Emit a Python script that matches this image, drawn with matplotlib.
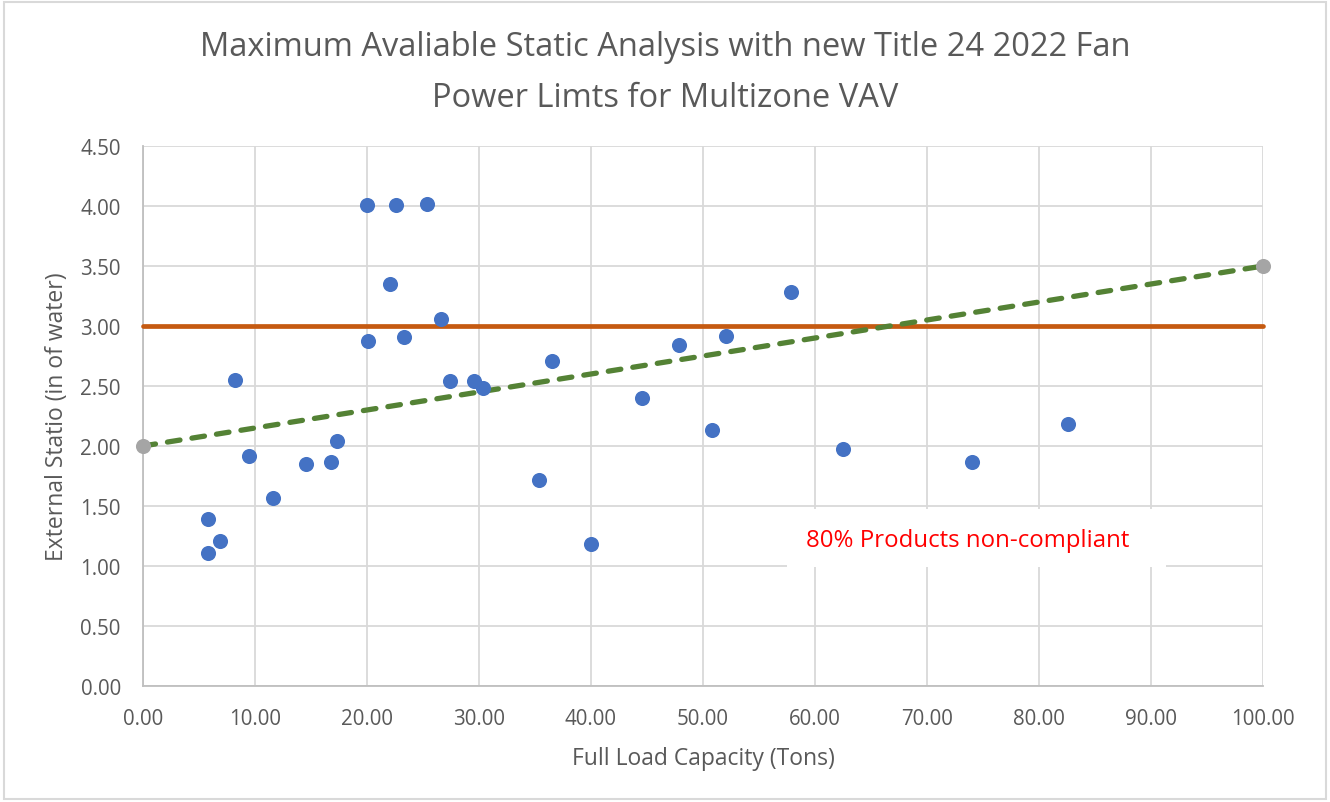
import matplotlib
matplotlib.use("Agg")
import matplotlib.pyplot as plt
from matplotlib.patches import Rectangle

plt.rcParams['font.family'] = ['Open Sans', 'DejaVu Sans']

# Data
capacity_tons = [5.8, 5.8, 6.9, 8.2, 9.5, 11.6, 14.55, 16.8, 17.3, 20.0, 20.1, 22.05,
                 22.6, 23.3, 25.4, 26.6, 27.4, 29.55, 30.4, 35.4, 36.5, 40.0, 44.55,
                 47.9, 50.8, 52.05, 57.9, 62.5, 74.0, 82.6]
static_in_wc = [1.39, 1.11, 1.21, 2.55, 1.92, 1.57, 1.85, 1.87, 2.04, 4.01, 2.875, 3.35,
                4.01, 2.91, 4.02, 3.06, 2.54, 2.54, 2.48, 1.72, 2.71, 1.18, 2.40,
                2.84, 2.13, 2.92, 3.28, 1.975, 1.87, 2.18]
limit_x = [0.0, 100.0]
limit_y = [3.0, 3.0]
trend_x = [0.0, 100.0]
trend_y = [2.0, 3.5]
x_ticks = [0, 10, 20, 30, 40, 50, 60, 70, 80, 90, 100]
y_ticks = [0.0, 0.5, 1.0, 1.5, 2.0, 2.5, 3.0, 3.5, 4.0, 4.5]
title = "Maximum Avaliable Static Analysis with new Title 24 2022 Fan\nPower Limts for Multizone VAV"
xlabel = "Full Load Capacity (Tons)"
ylabel = "External Statio (in of water)"
note = "80% Products non-compliant"

fig = plt.figure(figsize=(13.3, 8.03), dpi=100)
fig.patches.append(Rectangle((0.003, 0.004), 0.994, 0.992, transform=fig.transFigure,
                             fill=False, edgecolor='#d9d9d9', linewidth=1.5))
ax = fig.add_axes([0.1075, 0.1445, 0.8421, 0.6724])

txt_color = '#595959'
ax.set_xlim(0, 100)
ax.set_ylim(0, 4.5)
ax.set_xticks(x_ticks)
ax.set_yticks(y_ticks)
ax.set_xticklabels([f"{v:.2f}" for v in x_ticks])
ax.set_yticklabels([f"{v:.2f}" for v in y_ticks])
ax.tick_params(axis='both', length=0, labelsize=14.8, colors=txt_color, pad=16)
ax.grid(True, color='#d9d9d9', linewidth=1.3)
ax.set_axisbelow(True)
for s in ['top', 'right']:
    ax.spines[s].set_visible(False)
for s in ['left', 'bottom']:
    ax.spines[s].set_color('#bfbfbf')
    ax.spines[s].set_linewidth(1.3)

# note box (white) hiding grid
ax.add_patch(Rectangle((57.5, 0.99), 33.8, 0.485, facecolor='white', edgecolor='none', zorder=1.5))
ax.text(73.6, 1.215, note, color='#ff0000', fontsize=17.3, ha='center', va='center', zorder=3)

ax.plot(limit_x, limit_y, color='#c55a11', linewidth=3.4, solid_capstyle='round', zorder=3,
        clip_on=False)
ax.plot(trend_x, trend_y, color='#548235', linewidth=3.8, linestyle=(0, (2.4, 2.3)),
        dash_capstyle='round', zorder=3)
ax.scatter(trend_x, trend_y, s=118, color='#a5a5a5', zorder=4, linewidths=0, clip_on=False)
ax.scatter(capacity_tons, static_in_wc, s=118, color='#4472c4', zorder=4, linewidths=0)

ax.set_xlabel(xlabel, fontsize=16.5, color=txt_color, labelpad=12)
ax.set_ylabel(ylabel, fontsize=16.5, color=txt_color, labelpad=8)
fig.text(0.5, 0.909, title, fontsize=23.5, color=txt_color, ha='center', va='center',
         linespacing=1.7)

fig.savefig("out.png", dpi=100)
